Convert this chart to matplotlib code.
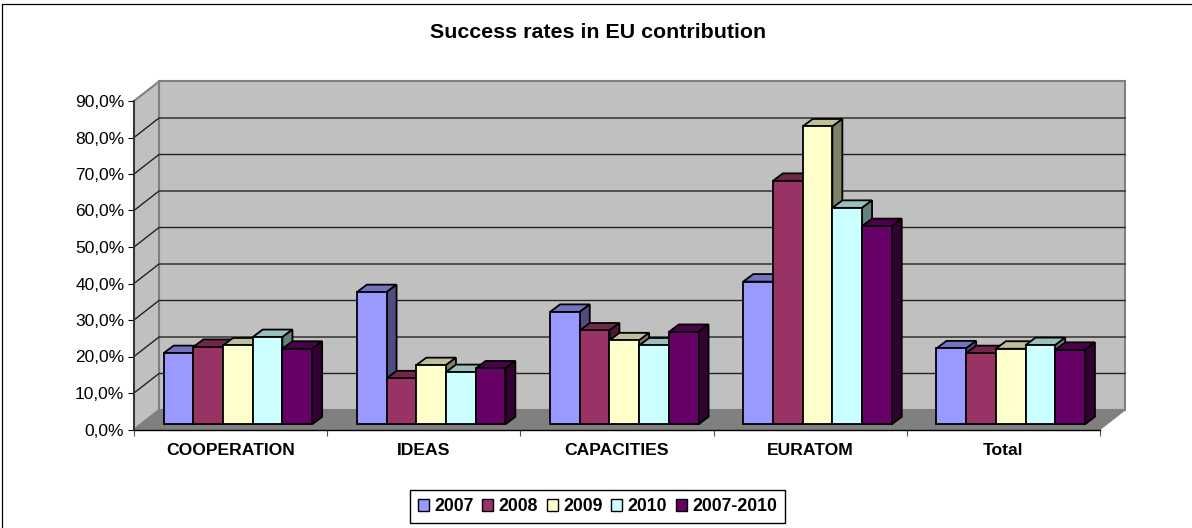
import matplotlib
matplotlib.use('Agg')
import matplotlib.pyplot as plt
from matplotlib.patches import Polygon, Rectangle
from matplotlib.colors import to_rgb

plt.rcParams['font.family'] = ['Liberation Sans', 'DejaVu Sans']

categories = ['COOPERATION', 'IDEAS', 'CAPACITIES', 'EURATOM', 'Total']
years = ['2007', '2008', '2009', '2010', '2007-2010']
v2007 = [19.5, 36.2, 30.8, 39.1, 20.8]
v2008 = [21.2, 12.6, 25.7, 66.7, 19.5]
v2009 = [21.6, 16.2, 23.0, 81.6, 20.7]
v2010 = [23.9, 14.3, 21.6, 59.3, 21.7]
vall = [20.7, 15.3, 25.3, 54.3, 20.4]
series = [v2007, v2008, v2009, v2010, vall]
colors = ['#9999FF', '#993366', '#FFFFCC', '#CCFFFF', '#660066']
yticks = list(range(0, 100, 10))

W, H = 1192, 528
fig = plt.figure(figsize=(W / 100, H / 100), dpi=100)
# axes = front plane of the 3D box, pixels from the reference
ax = fig.add_axes([134 / W, 1 - 429.5 / H, 966 / W, 328.5 / H])
ax.set_xlim(0, 5)
ax.set_ylim(0, 90)

# pixel to data steps
px = 5 / 966
py = 90 / 328.5
wall_dx, wall_dy = 25 * px, 19.5 * py
bar_dx, bar_dy = 10 * px, 7.5 * py
off_x, off_y = 7.3 * px, 5.2 * py
bar_w = 29.7 * px


def shade(c, f):
    return tuple(v * f for v in to_rgb(c))


def poly(pts, fc, ec, lw, z):
    ax.add_patch(Polygon(pts, closed=True, facecolor=fc, edgecolor=ec, linewidth=lw,
                         zorder=z, clip_on=False, joinstyle='miter'))


# walls and floor
poly([(0, 0), (wall_dx, wall_dy), (5 + wall_dx, wall_dy), (5, 0)], '#808080', '#808080', 0.8, 1)
poly([(wall_dx, wall_dy), (5 + wall_dx, wall_dy), (5 + wall_dx, 90 + wall_dy), (wall_dx, 90 + wall_dy)],
     '#C0C0C0', '#808080', 1.5, 1)
poly([(0, 0), (wall_dx, wall_dy), (wall_dx, 90 + wall_dy), (0, 90)], '#C0C0C0', '#808080', 1.5, 1)

# gridlines
for t in yticks[1:-1]:
    ax.plot([0, wall_dx, 5 + wall_dx], [t, t + wall_dy, t + wall_dy], color='#222222', lw=1.0,
            zorder=2, clip_on=False)

# bars
z = 3
for c in range(len(categories)):
    x0 = c + 0.5 + off_x - 2.5 * bar_w
    for s, vals in enumerate(series):
        x = x0 + s * bar_w
        v = vals[c] + off_y
        poly([(x, v), (x + bar_dx, v + bar_dy), (x + bar_w + bar_dx, v + bar_dy), (x + bar_w, v)],
             shade(colors[s], 0.75), 'black', 1.3, z)
        poly([(x + bar_w, off_y), (x + bar_w + bar_dx, off_y + bar_dy), (x + bar_w + bar_dx, v + bar_dy), (x + bar_w, v)],
             shade(colors[s], 0.5), 'black', 1.3, z)
        ax.add_patch(Rectangle((x, off_y), bar_w, vals[c], facecolor=colors[s], edgecolor='black',
                               linewidth=1.3, zorder=z, clip_on=False))
        z += 0.01

for side in ['top', 'right']:
    ax.spines[side].set_visible(False)
ax.spines['left'].set_color('#333333')
ax.spines['left'].set_linewidth(1.4)
ax.spines['bottom'].set_linewidth(1.0)
ax.spines['left'].set_zorder(20)
ax.spines['bottom'].set_zorder(20)
ax.set_facecolor('none')

ax.set_yticks(yticks)
ax.set_yticklabels([f'{t},0%' for t in yticks], fontsize=12.5, color='black')
ax.set_xticks(range(6))
ax.set_xticklabels([])
ax.set_xticks([i + 0.5 for i in range(5)], minor=True)
ax.set_xticklabels(categories, minor=True, fontsize=12.6, fontweight='bold')
ax.tick_params(axis='x', which='major', length=4, width=0.8, color='#555555')
ax.tick_params(axis='x', which='minor', length=0, pad=10)
ax.tick_params(axis='y', length=4, width=0.8, pad=3)

fig.text(598.5 / W, 1 - 32 / H, 'Success rates in EU contribution', ha='center', va='center',
         fontsize=15.4, fontweight='bold')

# chart frame, only the left and top edges are inside the picture
fig.add_artist(plt.Line2D([1.5 / W, 1.5 / W, 1], [0, 1 - 3.5 / H, 1 - 3.5 / H], transform=fig.transFigure,
                          color='black', linewidth=0.9))

handles = [Rectangle((0, 0), 1, 1, facecolor=colors[i], edgecolor='black', linewidth=1.0) for i in range(5)]
fig.legend(handles, years, loc='center', bbox_to_anchor=(597.5 / W, 1 - 506.5 / H), ncol=5,
           fancybox=False, framealpha=1, edgecolor='black', borderaxespad=0,
           prop={'size': 12.7, 'weight': 'bold'}, handlelength=0.62, handleheight=0.62,
           handletextpad=0.3, columnspacing=0.5, borderpad=0.45)

fig.savefig('out.png', dpi=100)
